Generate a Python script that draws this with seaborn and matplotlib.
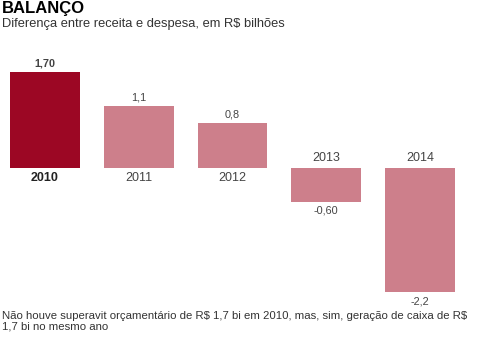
import matplotlib
matplotlib.use("Agg")
import matplotlib.pyplot as plt
import seaborn as sns
import pandas as pd

years = ["2010", "2011", "2012", "2013", "2014"]
values = [1.70, 1.1, 0.8, -0.60, -2.2]
value_labels = ["1,70", "1,1", "0,8", "-0,60", "-2,2"]
colors = ["#9c0724", "#cd7f8b", "#cd7f8b", "#cd7f8b", "#cd7f8b"]

title = "BALANÇO"
subtitle = "Diferença entre receita e despesa, em R$ bilhões"
footnote = "Não houve superavit orçamentário de R$ 1,7 bi em 2010, mas, sim, geração de caixa de R$\n1,7 bi no mesmo ano"

sns.set_theme(style="white")
plt.rcParams['font.family'] = ['Liberation Sans', 'DejaVu Sans']
plt.rcParams['text.parse_math'] = False

W, H = 481, 339
fig = plt.figure(figsize=(W / 100, H / 100), dpi=100)
# axes spanning pixels y 60..300
ax = fig.add_axes([0, (H - 300) / H, 1, 240 / H])

df = pd.DataFrame({"year": years, "value": values})
sns.barplot(data=df, x="year", y="value", hue="year", palette=colors,
            legend=False, width=0.745, ax=ax, saturation=1, edgecolor="none")

ax.set_xlim(-0.48, 4.65)
ax.set_ylim(-2.336, 1.911)
ax.axis("off")

px = 72 / 100  # points per pixel
txt = "#444444"
for i, (y, v, lab) in enumerate(zip(years, values, value_labels)):
    bold = "bold" if i == 0 else "normal"
    if v >= 0:
        ax.annotate(lab, (i, v), xytext=(0, 8 * px), textcoords="offset points",
                    ha="center", va="center", fontsize=7.8, color=txt, fontweight=bold)
        ax.annotate(y, (i, 0), xytext=(0, -10 * px), textcoords="offset points",
                    ha="center", va="center", fontsize=9, color=txt if i else "#222222", fontweight=bold)
    else:
        ax.annotate(lab, (i, v), xytext=(0, -9 * px), textcoords="offset points",
                    ha="center", va="center", fontsize=7.8, color=txt)
        ax.annotate(y, (i, 0), xytext=(0, 10 * px), textcoords="offset points",
                    ha="center", va="center", fontsize=9, color=txt)

fig.text(2 / W, 1 - 9 / H, title, fontsize=12, fontweight="heavy", color="black",
         ha="left", va="center")
fig.text(2 / W, 1 - 24 / H, subtitle, fontsize=9.3, color="#333333", ha="left", va="center")
fig.text(2 / W, 1 - 321 / H, footnote, fontsize=8.2, color="#333333", ha="left", va="center",
         linespacing=1.1)

fig.savefig("out.png", dpi=100)
